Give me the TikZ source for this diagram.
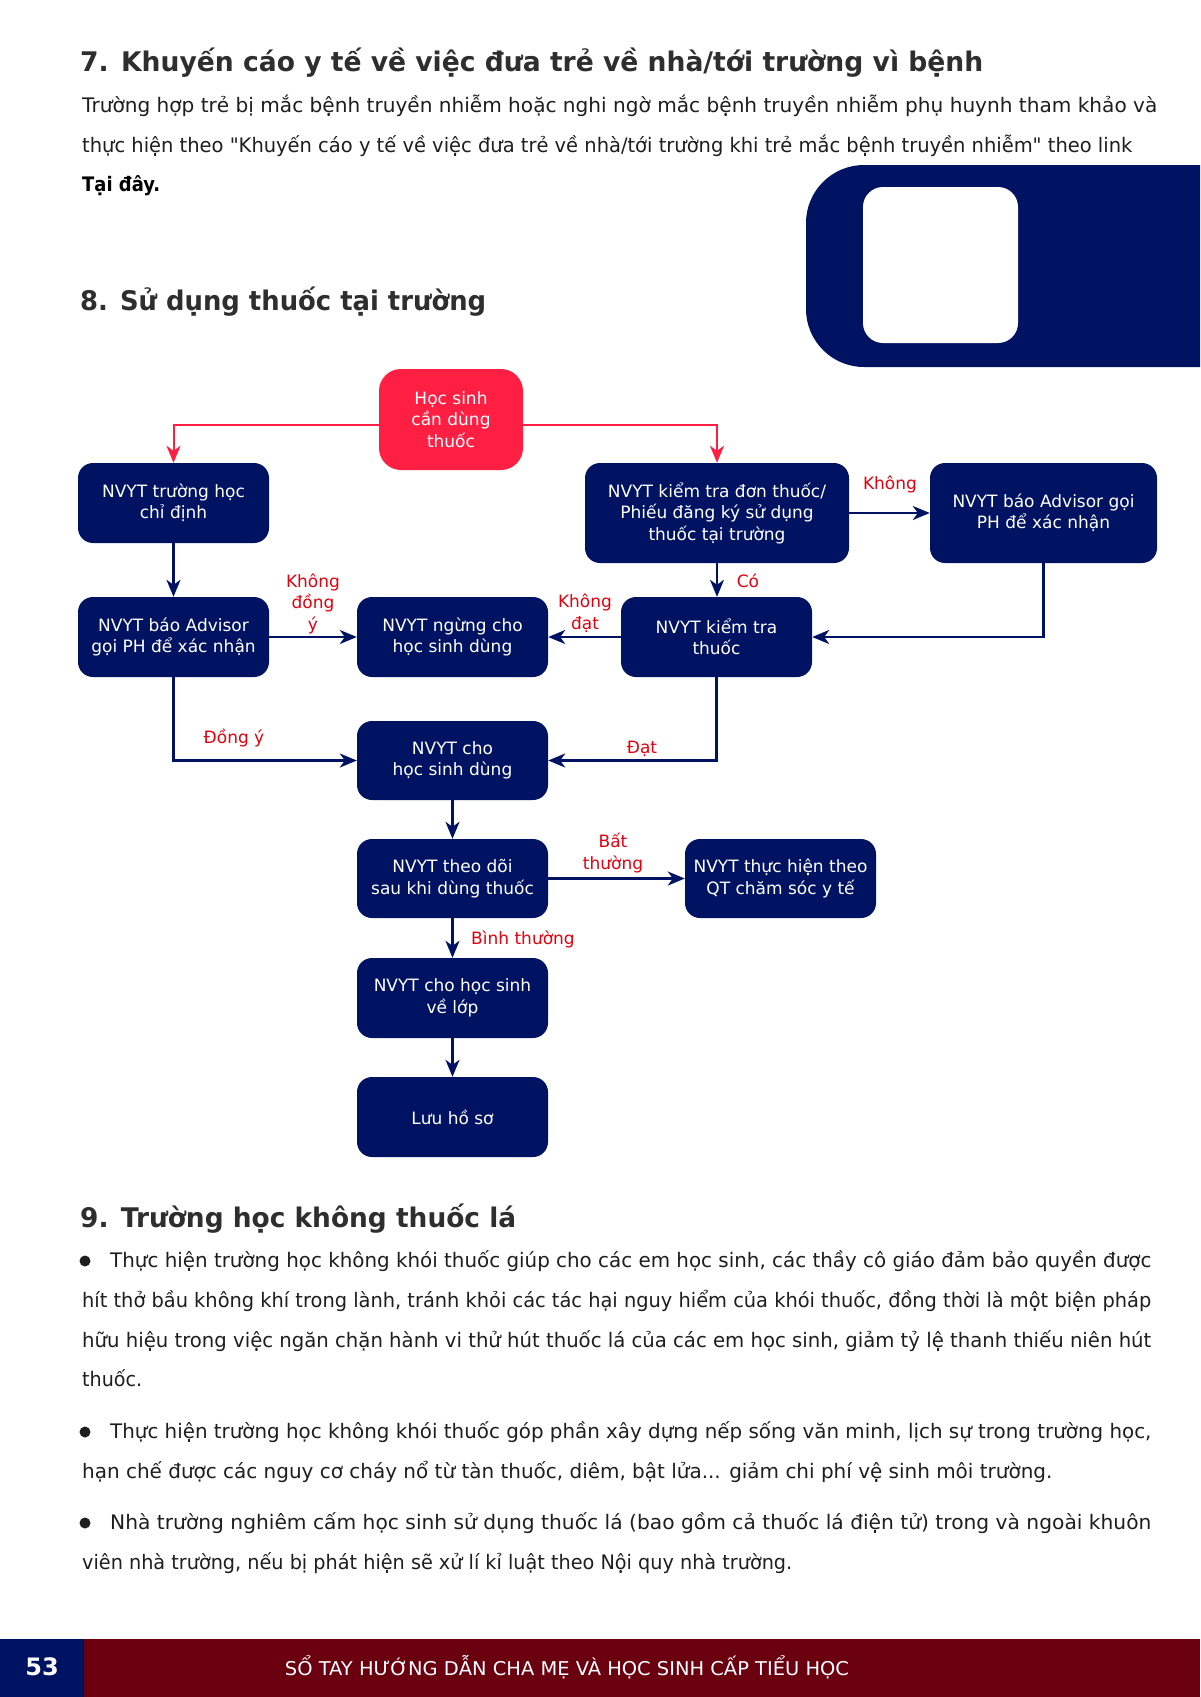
\documentclass[tikz,border=0pt]{standalone}
\usepackage{fontspec}
\setmainfont{DejaVu Sans}[Ligatures=TeXOff]
\usetikzlibrary{arrows.meta}
\definecolor{navy}{HTML}{001262}
\definecolor{hsred}{HTML}{FF1F42}
\definecolor{lblred}{HTML}{E3000F}
\definecolor{footmaroon}{HTML}{6A000F}
\definecolor{bodytxt}{HTML}{1E1E1E}
\definecolor{titletxt}{HTML}{2E2E2E}
\newcommand\fitto[2]{\resizebox{#1}{\height}{#2}}
\begin{document}
\begin{tikzpicture}[x=1pt,y=-1pt,
  fbox/.style={fill=navy, rounded corners=15pt, text=white, align=center, inner sep=0pt,
    minimum width=191pt, minimum height=80pt, font=\fontsize{17}{21.5}\selectfont},
  lbl/.style={text=lblred, align=center, inner sep=0pt, font=\fontsize{17}{21.5}\selectfont},
  nav/.style={draw=navy, line width=2.2pt, -{Stealth[length=17pt,width=14pt,inset=5pt]}},
  redl/.style={draw=hsred, line width=2pt, -{Stealth[length=17pt,width=14pt,inset=5pt]}},
  bodyl/.style={anchor=base west, inner sep=0pt, text=bodytxt, font=\fontsize{20}{24}\selectfont},
  ttl/.style={anchor=base west, inner sep=0pt, text=titletxt, font=\fontsize{27}{32}\selectfont\bfseries},
]
\useasboundingbox[fill=white] (0,0) rectangle (1200,1697);

% decorative shape top right
\begin{scope}
\clip (0,0) rectangle (1200,1697);
\fill[navy, rounded corners=58pt] (806,165) rectangle (1320,367);
\fill[white, rounded corners=20pt] (863,187) rectangle (1018,343);
\end{scope}

% section 7
\node[ttl] (t7) at (80,71) {\fitto{903pt}{7. Khuyến cáo y tế về việc đưa trẻ về nhà/tới trường vì bệnh}};
\node[bodyl] (p1) at (82,112) {\fitto{1075pt}{Trường hợp trẻ bị mắc bệnh truyền nhiễm hoặc nghi ngờ mắc bệnh truyền nhiễm phụ huynh tham khảo và}};
\node[bodyl] (p2) at (82,152) {\fitto{1050pt}{thực hiện theo "Khuyến cáo y tế về việc đưa trẻ về nhà/tới trường khi trẻ mắc bệnh truyền nhiễm" theo link}};
\node[bodyl, font=\fontsize{20}{24}\selectfont\bfseries, text=black] (p3) at (82,191) {\fitto{78pt}{Tại đây.}};

% section 8
\node[ttl] (t8) at (80,310) {\fitto{406pt}{8. Sử dụng thuốc tại trường}};

% flowchart
\node[fbox, fill=hsred, rounded corners=22pt, minimum width=144pt, minimum height=101pt] (hs) at (451,419.5) {Học sinh\\cần dùng\\thuốc};
\node[fbox] (A) at (173.5,503) {NVYT trường học\\chỉ định};
\node[fbox, minimum width=264pt, minimum height=100pt] (B) at (717,513) {NVYT kiểm tra đơn thuốc/\\Phiếu đăng ký sử dụng\\thuốc tại trường};
\node[fbox, minimum width=227pt, minimum height=100pt] (C) at (1043.5,513) {NVYT báo Advisor gọi\\PH để xác nhận};
\node[fbox] (D) at (173.5,637) {NVYT báo Advisor\\gọi PH để xác nhận};
\node[fbox] (E) at (452.5,637) {NVYT ngừng cho\\học sinh dùng};
\node[fbox] (F) at (716.5,637) {NVYT kiểm tra\\thuốc};
\node[fbox, minimum height=79pt] (G) at (452.5,760.5) {NVYT cho\\học sinh dùng};
\node[fbox, minimum height=79pt] (H) at (452.5,878.5) {NVYT theo dõi\\sau khi dùng thuốc};
\node[fbox, minimum height=79pt] (I) at (780.5,878.5) {NVYT thực hiện theo\\QT chăm sóc y tế};
\node[fbox] (J) at (452.5,998) {NVYT cho học sinh\\về lớp};
\node[fbox] (K) at (452.5,1117) {Lưu hồ sơ};

\draw[redl] ([yshift=-5pt]hs.west) -| (A.north);
\draw[redl] ([yshift=-5pt]hs.east) -| (B.north);
\draw[nav] (A.south) -- (D.north);
\draw[nav] (D.east) -- (E.west);
\draw[nav] (D.south) |- (G.west);
\draw[nav] (B.east) -- (C.west);
\draw[nav] (B.south) -- (B.south |- F.north);
\draw[nav] (C.south) |- (F.east);
\draw[nav] (F.west) -- (E.east);
\draw[nav] (F.south) |- (G.east);
\draw[nav] (G.south) -- (H.north);
\draw[nav] (H.east) -- (I.west);
\draw[nav] (H.south) -- (J.north);
\draw[nav] (J.south) -- (K.north);

\node[lbl] (l1) at (313,603.5) {Không\\đồng\\ý};
\node[lbl] (l2) at (585,613.5) {Không\\đạt};
\node[lbl] (l3) at (890,484) {Không};
\node[lbl] (l4) at (748,581) {Có};
\node[lbl] (l5) at (234,738) {Đồng ý};
\node[lbl] (l6) at (642,749) {Đạt};
\node[lbl] (l7) at (613,853) {Bất\\thường};
\node[lbl] (l8) at (523,939) {Bình thường};

% section 9
\node[ttl] (t9) at (80,1227) {\fitto{436pt}{9. Trường học không thuốc lá}};
\fill[bodytxt] (85,1261) circle (5.5pt);
\fill[bodytxt] (85,1432) circle (5.5pt);
\fill[bodytxt] (85,1523) circle (5.5pt);
\node[bodyl] (q1) at (110,1267) {\fitto{1041pt}{Thực hiện trường học không khói thuốc giúp cho các em học sinh, các thầy cô giáo đảm bảo quyền được}};
\node[bodyl] (q2) at (82,1307) {\fitto{1069pt}{hít thở bầu không khí trong lành, tránh khỏi các tác hại nguy hiểm của khói thuốc, đồng thời là một biện pháp}};
\node[bodyl] (q3) at (82,1347) {\fitto{1069pt}{hữu hiệu trong việc ngăn chặn hành vi thử hút thuốc lá của các em học sinh, giảm tỷ lệ thanh thiếu niên hút}};
\node[bodyl] (q4) at (82,1386) {\fitto{60pt}{thuốc.}};
\node[bodyl] (q5) at (110,1438) {\fitto{1041pt}{Thực hiện trường học không khói thuốc góp phần xây dựng nếp sống văn minh, lịch sự trong trường học,}};
\node[bodyl] (q6) at (82,1478) {\fitto{970pt}{hạn chế được các nguy cơ cháy nổ từ tàn thuốc, diêm, bật lửa... giảm chi phí vệ sinh môi trường.}};
\node[bodyl] (q7) at (110,1529) {\fitto{1041pt}{Nhà trường nghiêm cấm học sinh sử dụng thuốc lá (bao gồm cả thuốc lá điện tử) trong và ngoài khuôn}};
\node[bodyl] (q8) at (82,1569) {\fitto{710pt}{viên nhà trường, nếu bị phát hiện sẽ xử lí kỉ luật theo Nội quy nhà trường.}};

% footer
\fill[navy] (0,1639) rectangle (84,1697);
\fill[footmaroon] (84,1639) rectangle (1200,1697);
\node[anchor=base, inner sep=0pt, text=white, font=\fontsize{24}{28}\selectfont\bfseries] (pg) at (42,1675) {53};
\node[anchor=base, inner sep=0pt, text=white, font=\fontsize{19}{23}\selectfont] (ft) at (567,1675) {\fitto{564pt}{SỔ TAY HƯỚNG DẪN CHA MẸ VÀ HỌC SINH CẤP TIỂU HỌC}};
\end{tikzpicture}
\end{document}
